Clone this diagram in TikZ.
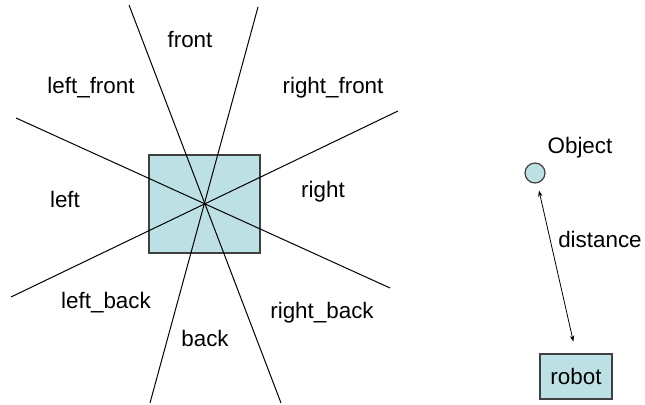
\documentclass[tikz,border=0pt]{standalone}
\usepackage{fontspec}
\setmainfont{Liberation Sans}
\usetikzlibrary{arrows.meta}
\definecolor{boxfill}{RGB}{188,224,228}
\definecolor{boxline}{RGB}{64,64,64}
\tikzset{
    zone/.style = {
        font=\fontsize{11.2}{13}\selectfont,
        inner sep=0
    },
    bodybox/.style = {
        rectangle, draw=boxline, fill=boxfill,
        line width=0.7pt, inner sep=0
    },
    target/.style = {
        circle, draw=boxline, fill=boxfill,
        line width=0.6pt, minimum size=10pt, inner sep=0
    },
    ray/.style = {
        line width=0.5pt
    },
    gap/.style = {
        {Stealth[length=3pt,width=2.2pt]}-{Stealth[length=3pt,width=2.2pt]},
        line width=0.4pt
    }
}

\begin{document}
\begin{tikzpicture}[x=0.5pt, y=-0.5pt]
\useasboundingbox (0,0) rectangle (645,405);

% the robot's body and the eight zones round it
\node (body) [bodybox, minimum width=55.5pt, minimum height=49pt] at (204.5,204) {};

\coordinate (fl) at (129,5);
\coordinate (br) at (281,403);
\coordinate (fr) at (258,7);
\coordinate (bl) at (150,403);
\coordinate (lf) at (16,118);
\coordinate (rb) at (390,288);
\coordinate (lb) at (11,297);
\coordinate (rf) at (398,111);

\draw [ray] (fl) -- (br);
\draw [ray] (fr) -- (bl);
\draw [ray] (lf) -- (rb);
\draw [ray] (lb) -- (rf);

\node (front) [zone] at (190,40) {front};
\node (leftfront) [zone] at (91,88) {left\_front};
\node (rightfront) [zone] at (333,88) {right\_front};
\node (left) [zone] at (65,200) {left};
\node (right) [zone] at (323,192) {right};
\node (leftback) [zone] at (106,303) {left\_back};
\node (back) [zone] at (205,339) {back};
\node (rightback) [zone] at (322,313) {right\_back};

% object and distance to the robot
\node (obj) [target] at (535,173) {};
\node (objlabel) [zone] at (580,148) {Object};
\node (robot) [bodybox, minimum width=36pt, minimum height=22.5pt, font=\fontsize{11.2}{13}\selectfont] at (576,376.5) {robot};

\draw [gap, shorten <=9pt, shorten >=6pt] (obj.center) -- (robot.north);
\node (dist) [zone] at (600,240) {distance};

\end{tikzpicture}
\end{document}
